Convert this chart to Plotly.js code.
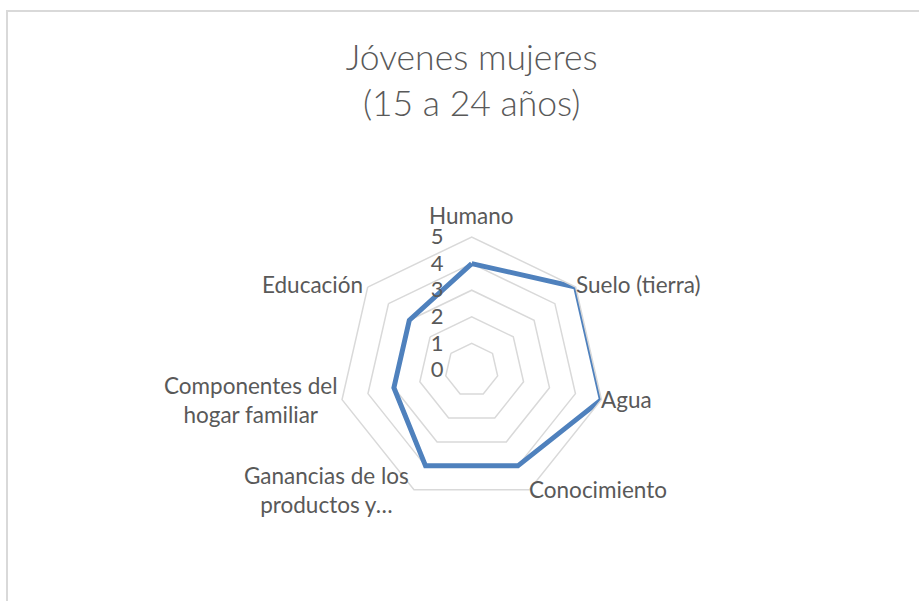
<!DOCTYPE html>
<html>
<head>
<meta charset="utf-8">
<script src="https://cdn.plot.ly/plotly-3.0.1.min.js"></script>
<style>
  html, body { margin: 0; padding: 0; background: #ffffff; overflow: hidden; }
  #frame { position: absolute; left: 6px; top: 10px; width: 960px; height: 640px; border: 2px solid #d9d9d9; box-sizing: border-box; }
  #chart { position: absolute; left: 0; top: 0; width: 919px; height: 601px; }
</style>
</head>
<body>
<div id="frame"></div>
<div id="chart"></div>
<script>
// Data
const categories = ["Humano", "Suelo (tierra)", "Agua", "Conocimiento",
  "Ganancias de los productos y…", "Componentes del hogar familiar", "Educación"];
const categoryLabels = ["Humano", "Suelo (tierra)", "Agua", "Conocimiento",
  "Ganancias de los<br>productos y…", "Componentes del<br>hogar familiar", "Educación"];
const values = [4, 5, 5, 4, 4, 3, 3];
const radialTicks = [0, 1, 2, 3, 4, 5];
const chartTitle = "Jóvenes mujeres<br>(15 a 24 años)";

const W = 919, H = 601;
const cx = 471.7, cy = 370, R = 133;
const FONT = "Lato, 'Open Sans', sans-serif";

const trace = {
  type: "scatterpolar",
  r: values.concat([values[0]]),
  theta: categories.concat([categories[0]]),
  mode: "lines",
  line: { color: "#4f81bd", width: 5 },
  hoverinfo: "skip",
  showlegend: false
};

// Category labels placed Excel-style: vertically centred beside each vertex
const n = categories.length;
const annotations = categories.map((c, i) => {
  const a = 2 * Math.PI * i / n;           // clockwise from top
  const s = Math.sin(a), co = Math.cos(a);
  let xanchor = "center", yanchor = "middle", px, py;
  if (Math.abs(s) < 0.05) {
    xanchor = "center"; yanchor = "bottom";
    px = cx; py = cy - R - 6;
  } else {
    xanchor = s > 0 ? "left" : "right";
    px = cx + R * s + (s > 0 ? -2 : -3);
    py = cy - R * co - (co > 0.3 ? 3 : 0);
  }
  return {
    text: categoryLabels[i],
    xref: "paper", yref: "paper",
    x: px / W, y: 1 - py / H,
    xanchor: xanchor, yanchor: yanchor,
    align: "center",
    showarrow: false,
    font: { family: FONT, size: 22.5, color: "#595959" }
  };
});

const layout = {
  width: W, height: H,
  margin: { l: 0, r: 0, t: 0, b: 0 },
  paper_bgcolor: "rgba(0,0,0,0)",
  plot_bgcolor: "rgba(0,0,0,0)",
  font: { family: FONT, color: "#595959", size: 22 },
  title: {
    text: chartTitle,
    x: cx / W, xref: "container", xanchor: "center",
    y: 1 - 70 / H, yref: "container", yanchor: "middle",
    font: { family: FONT, size: 35.5, color: "#595959", weight: 300 }
  },
  annotations: annotations,
  polar: {
    domain: {
      x: [(cx - R) / W, (cx + R) / W],
      y: [(H - cy - R) / H, (H - cy + R) / H]
    },
    bgcolor: "rgba(0,0,0,0)",
    gridshape: "linear",
    radialaxis: {
      range: [0, 5],
      angle: 90,
      tickangle: 90,
      side: "counterclockwise",
      tickvals: radialTicks,
      ticktext: radialTicks.map(String),
      showline: false,
      ticks: "outside",
      ticklen: 20,
      tickcolor: "rgba(0,0,0,0)",
      showgrid: true,
      gridcolor: "#d9d9d9",
      gridwidth: 1.5,
      tickfont: { family: FONT, size: 22, color: "#595959" },
      layer: "above traces"
    },
    angularaxis: {
      direction: "clockwise",
      rotation: 90,
      type: "category",
      categoryarray: categories,
      showgrid: false,
      showline: true,
      linecolor: "#d9d9d9",
      linewidth: 1.5,
      ticks: "",
      showticklabels: false
    }
  }
};

Plotly.newPlot("chart", [trace], layout, { staticPlot: true, displayModeBar: false });
</script>
</body>
</html>
